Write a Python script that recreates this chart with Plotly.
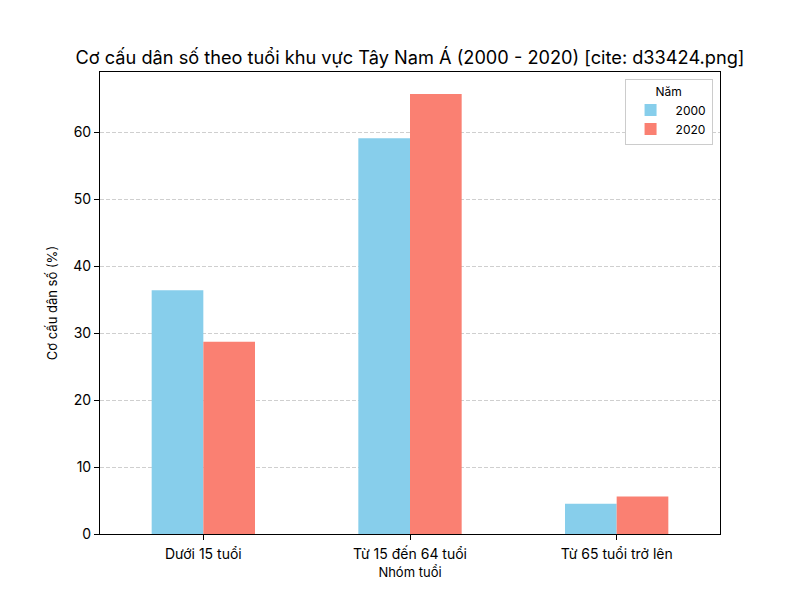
import plotly.graph_objects as go

categories = ["Dưới 15 tuổi", "Từ 15 đến 64 tuổi", "Từ 65 tuổi trở lên"]
years = ["2000", "2020"]
values_2000 = [36.4, 59.1, 4.5]
values_2020 = [28.7, 65.7, 5.6]
colors = ["#87CEEB", "#FA8072"]

FONT = "Inter, Roboto, sans-serif"

fig = go.Figure()
for name, vals, col in zip(years, [values_2000, values_2020], colors):
    fig.add_trace(go.Bar(x=categories, y=vals, name=name, marker_color=col,
                         marker_line_width=0))

fig.update_layout(
    width=800, height=600,
    margin=dict(l=100, r=80, t=72, b=66),
    paper_bgcolor="white", plot_bgcolor="white",
    barmode="group", bargap=0.5, bargroupgap=0,
    font=dict(family=FONT, color="black", size=13),
    title=dict(text="Cơ cấu dân số theo tuổi khu vực Tây Nam Á (2000 - 2020) [cite: d33424.png]",
               x=0.5, xref="paper", xanchor="center",
               y=1, yref="paper", yanchor="bottom", pad=dict(b=8),
               font=dict(size=18.2, family=FONT)),
    legend=dict(x=0.988, y=0.985, xanchor="right", yanchor="top",
                bordercolor="#cccccc", borderwidth=1, bgcolor="white",
                title=dict(text="Năm", side="top center", font=dict(size=12)),
                font=dict(size=12), itemwidth=40),
)
fig.update_xaxes(showline=True, linecolor="black", linewidth=1, mirror=True,
                 ticks="outside", ticklen=5, tickcolor="black",
                 tickfont=dict(size=14), range=[-0.5, 2.5], ticklabelstandoff=2,
                 title=dict(text="Nhóm tuổi", font=dict(size=13), standoff=7))
fig.update_yaxes(showline=True, linecolor="black", linewidth=1, mirror=True,
                 ticks="outside", ticklen=5, tickcolor="black",
                 tickfont=dict(size=14), range=[0, 68.985], dtick=10,
                 showgrid=True, gridcolor="#cfcfcf", griddash="4px,2px", gridwidth=1,
                 zeroline=False,
                 title=dict(text="Cơ cấu dân số (%)", font=dict(size=13), standoff=12))

fig.write_html("out.html")
